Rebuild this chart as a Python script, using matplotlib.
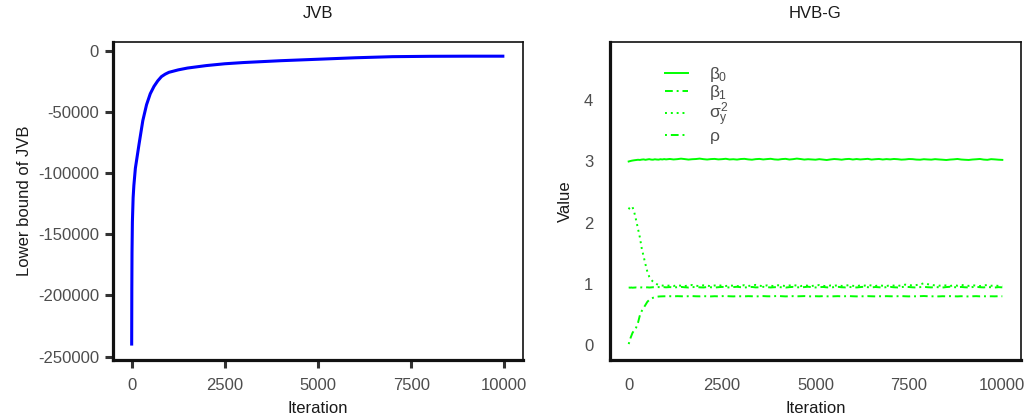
import numpy as np
import matplotlib
matplotlib.use("Agg")
import matplotlib.pyplot as plt

plt.rcParams['font.family'] = ['Liberation Sans', 'DejaVu Sans']
plt.rcParams['mathtext.fontset'] = 'custom'
plt.rcParams['mathtext.rm'] = 'Liberation Sans'
plt.rcParams['mathtext.it'] = 'Liberation Sans'
plt.rcParams['axes.unicode_minus'] = False

# lower bound of JVB against iteration
jvb_iter = [1, 5, 10, 20, 40, 60, 100, 150, 200, 300, 400, 500, 600, 700, 800, 900,
            1000, 1250, 1500, 2000, 2500, 3000, 4000, 5000, 6000, 7000, 8000, 9000, 10000]
jvb_bound = [-241000, -195000, -165000, -140000, -120000, -110000, -96000, -86000, -76000,
             -57000, -44000, -35000, -29000, -24500, -21000, -19000, -17500, -15500, -14000,
             -12000, -10500, -9500, -8000, -6800, -5600, -4700, -4400, -4300, -4300]

# HVB-G parameter traces
hvb_iter = np.concatenate([np.arange(0, 101, 25), np.arange(150, 1001, 50), np.arange(1100, 10001, 100)])

beta0 = [3.000, 3.004, 3.008, 3.012, 3.015, 3.020, 3.024, 3.028, 3.025, 3.031, 3.034, 3.027,
         3.033, 3.038, 3.031, 3.029, 3.036, 3.032, 3.030, 3.037, 3.033, 3.039, 3.034,
         3.041, 3.033, 3.038, 3.046, 3.039, 3.031, 3.037, 3.040, 3.047, 3.038,
         3.032, 3.039, 3.042, 3.034, 3.038, 3.044, 3.033, 3.037, 3.031, 3.040,
         3.043, 3.034, 3.029, 3.038, 3.042, 3.033, 3.039, 3.044, 3.034, 3.030,
         3.039, 3.043, 3.032, 3.038, 3.047, 3.040, 3.031, 3.037, 3.033, 3.029,
         3.038, 3.031, 3.024, 3.033, 3.040, 3.036, 3.029, 3.038, 3.042, 3.032,
         3.040, 3.033, 3.038, 3.043, 3.031, 3.037, 3.041, 3.032, 3.039, 3.034,
         3.041, 3.037, 3.030, 3.033, 3.040, 3.038, 3.031, 3.029, 3.037, 3.033,
         3.030, 3.038, 3.033, 3.029, 3.024, 3.031, 3.035, 3.041, 3.032, 3.028,
         3.025, 3.032, 3.036, 3.041, 3.031, 3.027, 3.038, 3.034, 3.029, 3.026]

beta1 = [0.940, 0.942, 0.941, 0.943, 0.940, 0.942, 0.944, 0.941, 0.943, 0.945, 0.942, 0.944,
         0.946, 0.943, 0.945, 0.948, 0.944, 0.946, 0.950, 0.947, 0.945, 0.949, 0.946,
         0.950, 0.944, 0.948, 0.953, 0.947, 0.943, 0.949, 0.952, 0.946, 0.944,
         0.951, 0.947, 0.942, 0.948, 0.953, 0.946, 0.944, 0.950, 0.955, 0.948,
         0.943, 0.949, 0.952, 0.945, 0.947, 0.954, 0.949, 0.944, 0.948, 0.951,
         0.946, 0.942, 0.949, 0.953, 0.947, 0.945, 0.950, 0.956, 0.948, 0.944,
         0.949, 0.952, 0.946, 0.943, 0.950, 0.954, 0.947, 0.945, 0.951, 0.948,
         0.944, 0.950, 0.955, 0.948, 0.945, 0.951, 0.947, 0.943, 0.949, 0.953,
         0.947, 0.944, 0.950, 0.956, 0.951, 0.946, 0.943, 0.949, 0.954, 0.948,
         0.945, 0.951, 0.947, 0.943, 0.950, 0.955, 0.949, 0.946, 0.952, 0.947,
         0.944, 0.950, 0.954, 0.948, 0.945, 0.951, 0.947, 0.943, 0.949, 0.946]

sigma2 = [2.220, 2.245, 2.262, 2.270, 2.262, 2.170, 2.040, 1.900, 1.760, 1.580, 1.450, 1.320,
          1.200, 1.120, 1.070, 1.040, 1.015, 0.998, 0.986, 0.979, 0.975, 0.973, 0.971,
          0.975, 0.968, 0.980, 0.972, 0.966, 0.978, 0.984, 0.971, 0.967, 0.979,
          0.973, 0.965, 0.976, 0.983, 0.970, 0.968, 0.977, 0.972, 0.964, 0.975,
          0.981, 0.969, 0.974, 0.986, 0.972, 0.966, 0.978, 0.971, 0.967, 0.980,
          0.974, 0.968, 0.976, 0.985, 0.973, 0.966, 0.979, 0.972, 0.968, 0.977,
          0.983, 0.970, 0.965, 0.976, 0.972, 0.980, 0.969, 0.974, 0.982, 0.971,
          0.966, 0.977, 0.973, 0.985, 0.975, 0.968, 0.979, 0.972, 0.967, 0.981,
          0.974, 0.969, 0.978, 0.990, 0.984, 0.975, 0.983, 0.995, 1.012, 0.998,
          0.986, 0.978, 0.972, 0.981, 0.976, 0.968, 0.979, 0.973, 0.985, 0.977,
          0.970, 0.980, 0.974, 0.967, 0.978, 0.983, 0.972, 0.976, 0.969, 0.975]

rho = [0.020, 0.070, 0.120, 0.160, 0.200, 0.250, 0.290, 0.370, 0.490, 0.560, 0.610, 0.660,
       0.710, 0.740, 0.760, 0.775, 0.785, 0.792, 0.796, 0.798, 0.799, 0.800, 0.800,
       0.801, 0.799, 0.802, 0.800, 0.798, 0.801, 0.803, 0.800, 0.799, 0.802,
       0.800, 0.798, 0.801, 0.799, 0.802, 0.804, 0.800, 0.798, 0.801, 0.800,
       0.799, 0.802, 0.800, 0.797, 0.801, 0.803, 0.800, 0.799, 0.802, 0.805,
       0.801, 0.798, 0.800, 0.802, 0.799, 0.801, 0.803, 0.800, 0.798, 0.801,
       0.799, 0.802, 0.800, 0.797, 0.800, 0.802, 0.799, 0.801, 0.803, 0.800,
       0.798, 0.801, 0.799, 0.802, 0.800, 0.798, 0.801, 0.799, 0.802, 0.800,
       0.799, 0.801, 0.803, 0.800, 0.798, 0.801, 0.799, 0.802, 0.804, 0.801,
       0.799, 0.800, 0.798, 0.801, 0.799, 0.802, 0.800, 0.798, 0.801, 0.799,
       0.797, 0.800, 0.802, 0.799, 0.801, 0.798, 0.800, 0.799, 0.801, 0.800]

param_labels = [r'$\beta_0$', r'$\beta_1$', r'$\sigma_y^2$', r'$\rho$']
param_styles = ['-', (0, (4, 2, 1, 2)), (0, (1, 2)), (0, (1, 2, 4, 2))]

W, H = 1027, 419
fig = plt.figure(figsize=(W / 100, H / 100), dpi=100)
ax1 = fig.add_axes([113 / W, 59 / H, 410 / W, 318 / H])
ax2 = fig.add_axes([610 / W, 59 / H, 411 / W, 318 / H])

tick_grey = '#4d4d4d'


def style_axes(ax, xlabelpad):
    for side in ['left', 'bottom']:
        ax.spines[side].set_linewidth(2.3)
    for side in ['top', 'right']:
        ax.spines[side].set_linewidth(1.2)
    for s in ax.spines.values():
        s.set_color('#111111')
    ax.set_xticks([0, 2500, 5000, 7500, 10000])
    ax.set_xlim(-500, 10500)
    ax.set_xlabel('Iteration', fontsize=12, color='#1a1a1a', labelpad=xlabelpad)


# left: JVB lower bound
ax1.plot(jvb_iter, jvb_bound, color='#0000ff', lw=2.2, solid_capstyle='butt')
style_axes(ax1, 5.5)
ax1.set_ylim(-252800, 7300)
ax1.set_yticks([0, -50000, -100000, -150000, -200000, -250000])
ax1.tick_params(axis='both', which='major', length=6, width=2.2, color='#333333',
                labelsize=12, labelcolor=tick_grey)
ax1.tick_params(axis='x', pad=7)
ax1.tick_params(axis='y', pad=4)
ax1.set_ylabel('Lower bound of JVB', fontsize=12, color='#1a1a1a', labelpad=4)
ax1.set_title('JVB', fontsize=12, color='#1a1a1a', pad=17)

# right: HVB-G parameter traces
for vals, lab, ls in zip([beta0, beta1, sigma2, rho], param_labels, param_styles):
    ax2.plot(hvb_iter, vals, color='#00ff00', lw=1.4, linestyle=ls, label=lab)
style_axes(ax2, 5.5)
ax2.set_ylim(-0.24, 4.95)
ax2.set_yticks([0, 1, 2, 3, 4])
ax2.tick_params(axis='both', which='major', length=0, labelsize=12, labelcolor=tick_grey)
ax2.tick_params(axis='x', pad=13)
ax2.tick_params(axis='y', pad=12)
ax2.set_ylabel('Value', fontsize=12, color='#1a1a1a', labelpad=8)
ax2.set_title('HVB-G', fontsize=12, color='#1a1a1a', pad=17)
leg = ax2.legend(loc='upper left', bbox_to_anchor=(0.135, 0.928), frameon=False,
                 fontsize=12.5, handlelength=1.3, handletextpad=1.2, labelspacing=-0.05,
                 borderpad=0, borderaxespad=0)
for t in leg.get_texts():
    t.set_color(tick_grey)

fig.savefig('out.png', dpi=100, facecolor='white')
